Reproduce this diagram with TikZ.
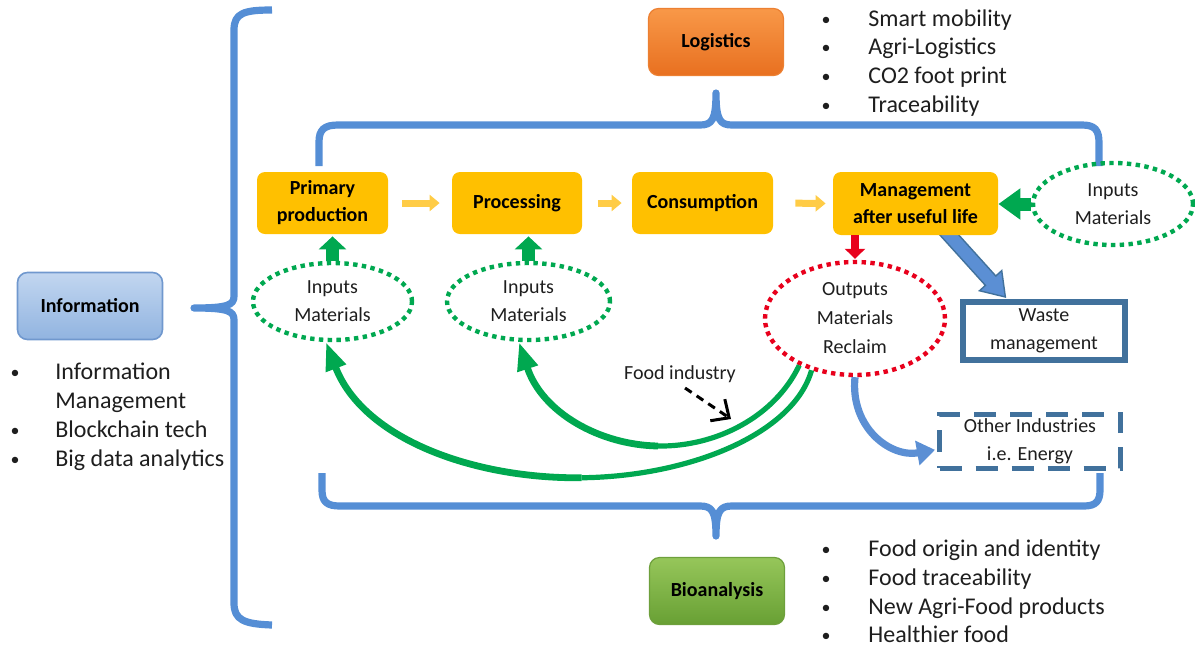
\documentclass[tikz,border=0pt]{standalone}
\usepackage{fontspec}
\setmainfont{Carlito}
\usetikzlibrary{arrows.meta,shapes.geometric,calc}
\pgfdeclarelayer{bg}
\pgfsetlayers{bg,main}
\definecolor{brblue}{RGB}{85,142,213}
\definecolor{myyellow}{RGB}{255,192,0}
\definecolor{ayellow}{RGB}{255,204,70}
\definecolor{mygreen}{RGB}{0,168,80}
\definecolor{myred}{RGB}{232,0,28}
\definecolor{wblue}{RGB}{65,113,156}
\definecolor{fblue}{RGB}{91,143,212}
\definecolor{txt}{RGB}{30,30,30}
\definecolor{orT}{RGB}{248,152,72}
\definecolor{orB}{RGB}{232,112,32}
\definecolor{orD}{RGB}{236,128,50}
\definecolor{inT}{RGB}{194,214,240}
\definecolor{inB}{RGB}{145,180,224}
\definecolor{inD}{RGB}{112,152,206}
\definecolor{gnT}{RGB}{150,198,90}
\definecolor{gnB}{RGB}{104,160,52}
\definecolor{gnD}{RGB}{110,160,60}
\tikzset{
  bracket/.style={draw=brblue, line width=3.6pt, line cap=butt, line join=round},
  headbox/.style={rounded corners=5pt, minimum width=67.5pt, minimum height=33.5pt, font=\bfseries\fontsize{10}{12}\selectfont, text=black},
  ybox/.style={rounded corners=4pt, fill=myyellow, minimum height=31pt, align=center, font=\bfseries\fontsize{10}{13.5}\selectfont, text=black},
  dotell/.style={ellipse, line width=2.2pt, dash pattern=on 2.2pt off 2.2pt, inner sep=0pt, align=center, font=\fontsize{10}{14}\selectfont, text=txt},
  bultxt/.style={anchor=west, inner sep=0pt, text height=8.5pt, text depth=2.5pt, font=\fontsize{12}{14.5}\selectfont, text=txt},
  bulmark/.style={inner sep=0pt, font=\fontsize{9}{10}\selectfont, text=txt},
  small/.style={align=center, inner sep=0pt, font=\fontsize{10}{14}\selectfont, text=txt},
  yarrow/.style={draw=ayellow, line width=3.5pt, -{Triangle[width=8pt,length=5pt]}},
  garrow/.style={draw=mygreen, line width=6.5pt, -{Triangle[width=13.5pt,length=6.5pt]}},
  gthin/.style={draw=mygreen, line width=2.6pt},
  gthick/.style={draw=mygreen, line width=3.4pt, -{Triangle[width=10pt,length=14pt]}},
}
\begin{document}
\begin{tikzpicture}[x=0.5pt,y=-0.5pt]
\useasboundingbox (0,0) rectangle (1195,649);

% brackets
\draw[bracket] (272,10) .. controls (244,10) and (234,13) .. (234,30) -- (234,296)
  .. controls (234,305) and (228,308) .. (194,308)
  .. controls (228,308) and (234,311) .. (234,320) -- (234,603)
  .. controls (234,620) and (244,624) .. (272,625);
\draw[bracket] (319,166) -- (319,142) .. controls (319,130) and (324,125) .. (338,125)
  -- (700,125) .. controls (712,125) and (716,120) .. (716,93)
  .. controls (716,120) and (720,125) .. (732,125) -- (1082,125)
  .. controls (1095,125) and (1099,130) .. (1099,143) -- (1099,166);
\draw[bracket] (322,473) -- (322,490) .. controls (322,502) and (327,506) .. (340,506)
  -- (700,506) .. controls (712,506) and (716,511) .. (716,536)
  .. controls (716,511) and (720,506) .. (732,506) -- (1084,506)
  .. controls (1096,506) and (1100,501) .. (1100,490) -- (1100,473);

% head boxes
\node[headbox, draw=orD, line width=0.6pt, top color=orT, bottom color=orB] (logi) at (716,42) {Logistics};
\node[headbox, draw=inD, line width=0.8pt, top color=inT, bottom color=inB, minimum width=72.5pt] (info) at (90,306) {Information};
\node[headbox, draw=gnD, line width=0.6pt, top color=gnT, bottom color=gnB] (bio) at (717,591) {Bioanalysis};

% bullet lists
\node[bulmark] (lb1) at (826,21) {•};
\node[bultxt] (lt1) at (868,20) {Smart mobility};
\node[bulmark] (lb2) at (826,49) {•};
\node[bultxt] (lt2) at (868,48) {Agri-Logistics};
\node[bulmark] (lb3) at (826,78) {•};
\node[bultxt] (lt3) at (868,77) {CO2 foot print};
\node[bulmark] (lb4) at (826,107) {•};
\node[bultxt] (lt4) at (868,106) {Traceability};

\node[bulmark] (ib1) at (15,374) {•};
\node[bultxt] (it1) at (55,373) {Information};
\node[bultxt] (it2) at (55,402) {Management};
\node[bulmark] (ib3) at (15,432) {•};
\node[bultxt] (it3) at (55,431) {Blockchain tech};
\node[bulmark] (ib4) at (15,461) {•};
\node[bultxt] (it4) at (55,460) {Big data analytics};

\node[bulmark] (bb1) at (826,551) {•};
\node[bultxt] (bt1) at (868,550) {Food origin and identity};
\node[bulmark] (bb2) at (826,580) {•};
\node[bultxt] (bt2) at (868,579) {Food traceability};
\node[bulmark] (bb3) at (826,609) {•};
\node[bultxt] (bt3) at (868,608) {New Agri-Food products};
\node[bulmark] (bb4) at (826,637) {•};
\node[bultxt] (bt4) at (868,636) {Healthier food};

% chain boxes
\node[ybox, minimum width=65.5pt] (prim) at (322.5,203) {Primary\\production};
\node[ybox, minimum width=65pt] (proc) at (517,203) {Processing};
\node[ybox, minimum width=70.5pt] (cons) at (702.5,203) {Consumption};
\node[ybox, minimum width=82.5pt, minimum height=31.5pt] (mgmt) at (915.5,203.5) {Management\\after useful life};

\draw[yarrow, shorten <=7pt, shorten >=6pt] (prim.east) -- (proc.west);
\draw[yarrow, shorten <=8pt, shorten >=5pt] (proc.east) -- (cons.west);
\draw[yarrow, shorten <=11pt, shorten >=3.5pt] (cons.east) -- (mgmt.west);

% ellipses
\node[dotell, draw=mygreen, minimum width=79.5pt, minimum height=38.5pt] (in1) at (332.5,301.5) {Inputs\\Materials};
\node[dotell, draw=mygreen, minimum width=81.5pt, minimum height=38.5pt] (in2) at (528.5,301.5) {Inputs\\Materials};
\node[dotell, draw=mygreen, minimum width=80pt, minimum height=41pt] (in3) at (1113,204) {Inputs\\Materials};
\node[dotell, draw=myred, minimum width=90pt, minimum height=56.5pt, font=\fontsize{10}{14.5}\selectfont] (out) at (855,318.5) {Outputs\\Materials\\Reclaim};

\draw[garrow, shorten >=1pt] (in1.north) -- (in1.north |- prim.south);
\draw[garrow, shorten >=1pt] (in2.north) -- (in2.north |- proc.south);
\draw[draw=mygreen, line width=6.5pt, -{Triangle[width=15pt,length=11pt]}] (in3.west) -- (in3.west -| mgmt.east);
\draw[draw=myred, line width=4pt, -{Triangle[width=10pt,length=5pt]}, shorten >=0.5pt] (mgmt.south -| out.north) -- (out.north);

% waste and other industries
\node[small, draw=wblue, line width=3pt, minimum width=81pt, minimum height=29pt] (waste) at (1044,331) {Waste\\management};
\node[small, draw=wblue, line width=2.5pt, dash pattern=on 11pt off 7pt, minimum width=90.5pt, minimum height=27pt] (other) at (1030,441) {Other Industries\\i.e. Energy};

% blue block arrow to waste
\coordinate (wa) at ($(mgmt.south west)!0.7!(mgmt.south east)+(-8,-10)$);
\coordinate (wb) at ($(waste.north west)!0.27!(waste.north east)+(0,-2)$);
\coordinate (wh) at ($(wb)!11pt!(wa)$);
\begin{pgfonlayer}{bg}
\draw[fill=fblue, draw=wblue, line width=0.7pt] ($(wa)!3.5pt!90:(wb)$) -- ($(wh)!3.5pt!-90:(wa)$) -- ($(wh)!7.5pt!-90:(wa)$) -- (wb) -- ($(wh)!7.5pt!90:(wa)$) -- ($(wh)!3.5pt!90:(wa)$) -- ($(wa)!3.5pt!-90:(wb)$) -- cycle;
\end{pgfonlayer}

% blue curved arrow to other industries
\coordinate (ot) at ($(other.south west)!0.35!(other.north west)+(-2,0)$);
\draw[draw=fblue, line width=3.6pt, -{Triangle[width=12pt,length=9pt]}] (out.south) .. controls +(-5,50) and +(-45,8) .. (ot);

% green curved arrows (tapered: thin first half + thicker second half)
\coordinate (g1end) at ($(in1.south)+(-6.5,0)$);
\coordinate (g1mid) at (581.6,477.75);
\draw[gthin] (out.230) .. controls (793.5,434) and (689.25,476.5) .. (g1mid);
\draw[gthick] (g1mid) .. controls (474,479) and (363,439) .. (g1end);
\coordinate (g2end) at ($(in2.south)+(-9.5,0)$);
\coordinate (g2mid) at (658,446);
\draw[gthin] (out.220) .. controls (775,416.5) and (716.25,447) .. (g2mid);
\draw[gthick] (g2mid) .. controls (599.75,445) and (542,412.5) .. (g2end);

% food industry
\node[small] (food) at (680,374) {Food industry};
\coordinate (fs) at (685,388);
\coordinate (ft) at (731,419);
\draw[black, line width=1.5pt, dash pattern=on 4pt off 3pt, -{Straight Barb[length=7pt,width=13pt]}] (fs) -- (ft);
\end{tikzpicture}
\end{document}
